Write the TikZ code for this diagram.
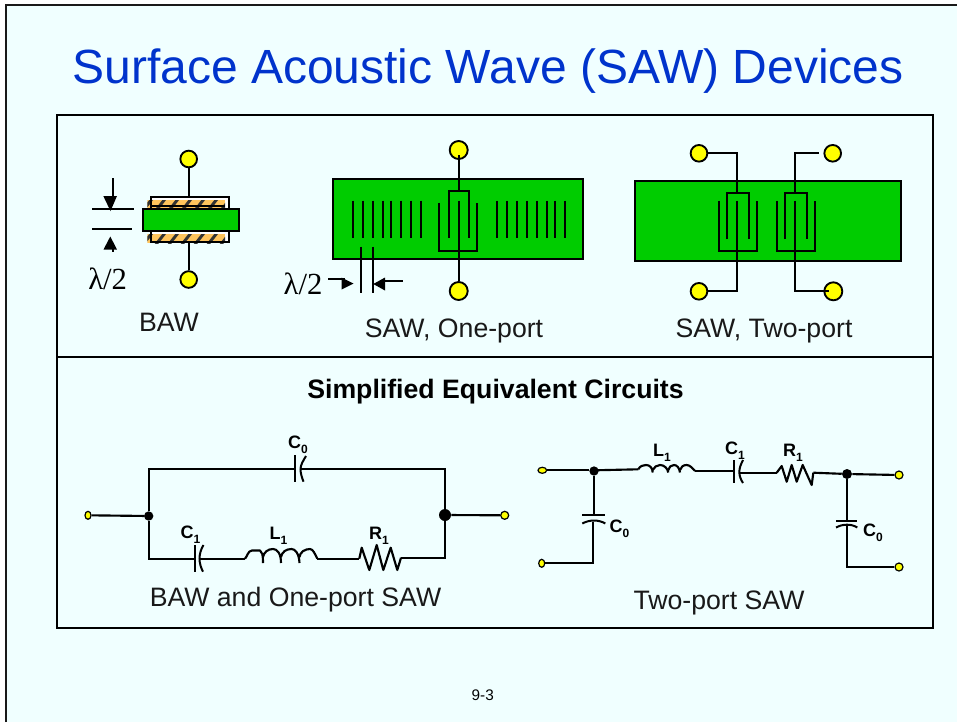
\documentclass[tikz,border=0pt]{standalone}
\usepackage{fontspec}
\setmainfont{Liberation Sans}
\newfontfamily\serifsym{Liberation Serif}
\definecolor{pagebg}{HTML}{F0FFFF}
\definecolor{subst}{HTML}{00CC00}
\definecolor{elec}{HTML}{FFC45C}
\definecolor{termy}{HTML}{FFFF00}
\definecolor{titleblue}{HTML}{0033CC}
\newcommand{\sizedtext}[1]{\fontsize{#1}{#1}\selectfont}
\newcommand{\compl}[2]{#1\raisebox{-0.28em}{\sizedtext{9}#2}}
\tikzset{
  x=0.75pt,y=-0.75pt,
  wire/.style={draw=black,line width=1.6pt,line join=miter},
  fine/.style={draw=black,line width=1.5pt},
  frameline/.style={draw=black,line width=1.2pt},
  bigterm/.style={circle,draw=black,fill=termy,line width=1.4pt,minimum size=12.5pt,inner sep=0pt},
  smallterm/.style={ellipse,draw=black,fill=termy,line width=0.9pt,minimum width=4.5pt,minimum height=6pt,inner sep=0pt},
  smalltermw/.style={ellipse,draw=black,fill=termy,line width=0.9pt,minimum width=6.5pt,minimum height=4.5pt,inner sep=0pt},
  smalltermc/.style={circle,draw=black,fill=termy,line width=0.9pt,minimum size=6pt,inner sep=0pt},
  junction/.style={circle,fill=black,minimum size=#1,inner sep=0pt},
  caption/.style={font=\sizedtext{20},text=black!90,inner sep=0pt},
  partlabel/.style={font=\bfseries\sizedtext{13.5},inner sep=0pt},
  plate/.style={draw=black,line width=1.5pt},
  green sub/.style={draw=black,fill=subst,line width=1.5pt},
  elecline/.style={draw=black,line width=1.3pt}
}
\usetikzlibrary{shapes.geometric}
\begin{document}
\begin{tikzpicture}
\useasboundingbox (0,0) rectangle (957,722);
\fill[white] (0,0) rectangle (957,722);
\fill[pagebg] (5,5) rectangle (957,722);
\draw[line width=1.5pt,black!90] (5.5,722) -- (5.5,5) -- (957,5);

% title
\node[inner sep=0pt,text=titleblue,font=\sizedtext{36},anchor=base] (title) at (488,83) {Surface Acoustic Wave (SAW) Devices};

% frame
\draw[frameline] (57,115) rectangle (933,628);
\draw[frameline] (57,357) -- (933,357);

% ---------------- BAW
\fill[white] (150.7,197) rectangle (229.3,209);
\fill[white] (150.7,231) rectangle (229.3,241.7);
\foreach \ya/\yb in {200/209.5,234/243.3}{
  \begin{scope}
  \clip (147.3,\ya) rectangle (225,\yb);
  \fill[elec] (147.3,\ya) rectangle (225,\yb);
  \foreach \k in {0,...,7}{
    \draw[line width=2.2pt,black!80] (143+\k*13,\yb+1) -- (152+\k*13,\ya-1);
  }
  \end{scope}
}
\draw[elecline] (150.7,209) -- (150.7,197) -- (229.3,197) -- (229.3,209);
\draw[elecline] (150.7,205.7) -- (225,205.7);
\draw[elecline] (150.7,231) -- (150.7,241.7) -- (229.3,241.7) -- (229.3,231);
\node[green sub,minimum width=72.4pt,minimum height=16.6pt,inner sep=0pt] (bawsub) at (191,220) {};
\node[bigterm] (bawT) at (188.7,159) {};
\node[bigterm] (bawB) at (188.7,279.5) {};
\coordinate (bawEt) at (188.7,197);
\coordinate (bawEb) at (188.7,241.5);
\draw[wire] (bawT) -- (bawEt);
\draw[wire] (bawEb) -- (bawB);
\draw[fine] (92.3,209) -- (133.7,209);
\draw[fine] (92.3,229) -- (132,229);
\draw[fine] (112.7,178) -- (112.7,197);
\fill (103.3,196) -- (117,196) -- (110.5,211) -- cycle;
\fill (103.5,249.5) -- (117,249.5) -- (110.3,236.5) -- cycle;
\draw[fine] (112.7,249) -- (112.7,251.7);
\node[inner sep=0pt,font=\serifsym\sizedtext{23}] (lamA) at (107.7,279) {λ/2};
\node[caption] (bawcap) at (169,322) {BAW};

% ---------------- SAW one port
\node[green sub,minimum width=188pt,minimum height=60pt,inner sep=0pt] (onesub) at (458,219) {};
\foreach \x in {352.7,362.7,372.7,382.7,390.7,400.7,410.7,420.7,496.7,506.7,516.7,526.7,536.7,546.7,555,565}{
  \draw[fine] (\x,200.7) -- (\x,238);
}
\draw[fine] (449,238) -- (449,191) -- (469,191) -- (469,238);
\draw[fine] (439,202.7) -- (439,251.3) -- (477,251.3) -- (477,202.7);
\node[bigterm,minimum width=12.5pt,minimum height=13.5pt] (oneT) at (458.7,150) {};
\node[bigterm,minimum width=12.5pt,minimum height=13.5pt] (oneB) at (458.7,291) {};
\coordinate (oneIt) at (458.7,191);
\coordinate (oneIb) at (458.7,200.7);
\draw[wire] (oneT.center) [shorten <=4pt] -- (oneIt);
\draw[wire] (oneIb) -- (oneB);
\node[inner sep=0pt,font=\serifsym\sizedtext{23}] (lamB) at (303,284) {λ/2};
\draw[fine] (360.7,246.7) -- (360.7,293.3);
\draw[fine] (372.7,246.7) -- (372.7,293.3);
\draw[fine] (328,279.3) -- (345,279.3);
\fill (341.5,277.5) -- (353.5,283.5) -- (341.5,289.5) -- cycle;
\draw[fine] (382,281) -- (403.3,281);
\fill (385,277.5) -- (373.3,284) -- (385,290.5) -- cycle;
\node[caption] (onecap) at (454,331) {SAW, One-port};

% ---------------- SAW two port
\node[green sub,minimum width=200pt,minimum height=60pt,inner sep=0pt] (twosub) at (767.9,221) {};
\foreach \c/\ua/\ub/\la/\lb in {737.3/726.7/749/718.7/757.3,794.7/784.7/807/776.7/815.3}{
  \draw[fine] (\ua,239.3) -- (\ua,193) -- (\ub,193) -- (\ub,239.3);
  \draw[fine] (\la,200.7) -- (\la,251.3) -- (\lb,251.3) -- (\lb,200.7);
}
\node[bigterm] (twoA) at (699,153.3) {};
\node[bigterm] (twoBt) at (832.7,153.3) {};
\node[bigterm] (twoC) at (699,291.3) {};
\node[bigterm,minimum width=13.5pt] (twoD) at (833.3,291.3) {};
\coordinate (twoIa) at (737.3,193);
\coordinate (twoIb) at (794.7,193);
\coordinate (twoIc) at (737.3,200.7);
\coordinate (twoId) at (794.7,200.7);
\draw[wire] (twoA) -| (twoIa);
\draw[wire] (twoIb) |- ([xshift=-3pt]twoBt.west);
\draw[wire] (twoIc) |- (twoC);
\draw[wire] (twoId) |- ([xshift=4pt]twoD.west);
\node[caption] (twocap) at (764,331) {SAW, Two-port};

% ---------------- Heading
\node[inner sep=0pt,font=\bfseries\sizedtext{20},anchor=base] (eqhead) at (495.5,398) {Simplified Equivalent Circuits};

% ---------------- Circuit 1
\node[smallterm] (aL) at (88,515.3) {};
\node[smalltermc] (aR) at (504.7,515.3) {};
\node[junction=7pt] (aJl) at (148.7,516) {};
\node[junction=9pt] (aJr) at (445,515) {};
\coordinate (aC0a) at (295,469.3);
\coordinate (aC0b) at (301,469.3);
\coordinate (aC1a) at (195,558.7);
\coordinate (aC1b) at (199.5,558.7);
\coordinate (aLa) at (245,558.7);
\coordinate (aLb) at (317.3,558.7);
\coordinate (aRa) at (359.3,558.7);
\coordinate (aRb) at (401,557.7);
\draw[wire] (aL) -- (aJl);
\draw[wire] (aJr) -- (aR);
\draw[wire] (aJl) |- (aC0a);
\draw[wire] (aC0b) -| (aJr);
\draw[wire] (aJl) |- (aC1a);
\draw[wire] (aC1b) -- (aLa);
\draw[wire] (aLb) -- (aRa);
\draw[wire] (aRb) -| (aJr);
% C0
\draw[plate] (295,455) -- (295,481.7);
\draw[plate] (306,456) .. controls (303,461) and (300.5,465) .. (300.5,469.3) .. controls (300.5,473) and (302,478) .. (303.5,481.7);
% C1
\draw[plate] (195,545) -- (195,571.7);
\draw[plate] (203.5,545) .. controls (201,549) and (199.5,554) .. (199.5,558.7) .. controls (199.5,563) and (201,568) .. (203,571.7);
% L1
\draw[wire,line join=round] (aLa) .. controls (247,557) and (248,550.5) .. (252,550.5) .. controls (254,550.5) and (257,550.5) .. (260,550.5) .. controls (262,552) and (263,554) .. (263,563)
  (263,557) .. controls (264,552) and (268,549) .. (273,549) .. controls (277,549) and (281,553) .. (281,563)
  (281,557) .. controls (282,552) and (286,549) .. (291.5,549) .. controls (295,549) and (299,553) .. (299.5,563)
  (299.5,557) .. controls (300,552) and (305,549) .. (310,549) .. controls (313,549) and (315,554) .. (aLb);
% R1
\draw[wire,line join=round] (aRa) -- (361.7,547.7) -- (369.3,570) -- (376.7,545) -- (383.3,570) -- (390.7,547.7) -- (397.3,570) -- (aRb);
\node[partlabel] (aLC0) at (298,445) {\compl{C}{0}};
\node[partlabel] (aLC1) at (190.5,534.5) {\compl{C}{1}};
\node[partlabel] (aLL1) at (278.5,535.5) {\compl{L}{1}};
\node[partlabel] (aLR1) at (379,535.5) {\compl{R}{1}};
\node[caption] (acap) at (295.5,599.5) {BAW and One-port SAW};

% ---------------- Circuit 2
\node[smalltermw] (bA) at (542.3,470.3) {};
\node[smallterm] (bB) at (541.7,563.3) {};
\node[smalltermc] (bC) at (899,475) {};
\node[smalltermc] (bD) at (899,567) {};
\node[junction=7pt] (bJl) at (594,471) {};
\node[junction=7.5pt] (bJr) at (847,474) {};
\coordinate (bLa) at (638.3,469.3);
\coordinate (bLb) at (695,471);
\coordinate (bC1a) at (734,471);
\coordinate (bC1b) at (739.3,472.7);
\coordinate (bRa) at (776.7,472.7);
\coordinate (bRb) at (813.3,472.7);
\coordinate (bCl) at (594,515);
\coordinate (bClb) at (592.7,521.7);
\coordinate (bCr) at (847,520.7);
\coordinate (bCrb) at (847,525);
\draw[wire] (bA) -- (bJl.west |- bA);
\draw[wire] (bJl |- bA) -- (bLa);
\draw[wire] (bLb) -- (bC1a);
\draw[wire] (bC1b) -- (bRa);
\draw[wire] (bRb) -- (bJr);
\draw[wire] (bJr) -- (bC);
\draw[wire] (bJl) -- (bCl);
\draw[wire] (bClb) |- (bB);
\draw[wire] (bJr) -- (bCr);
\draw[wire] (bCrb) |- (bD);
% C1
\draw[plate] (734,460) -- (734,483);
\draw[plate] (743,460) .. controls (741,464) and (739.3,468) .. (739.3,472) .. controls (739.3,476) and (741,480) .. (743,483);
% C0 left
\draw[plate] (582.3,515) -- (605.3,515);
\draw[plate] (582.3,523.5) .. controls (586,521.5) and (590,520.5) .. (594,520.5) .. controls (598,520.5) and (602,521.5) .. (605.3,523.5);
% C0 right
\draw[plate] (836,520.7) -- (857.3,520.7);
\draw[plate] (836,527.5) .. controls (840,525.5) and (843,524.7) .. (847,524.7) .. controls (851,524.7) and (854,525.5) .. (857.3,527.5);
% L1
\draw[wire,line join=round] (bLa) .. controls (640,466) and (643,465) .. (646,465) .. controls (650,465) and (652.5,468) .. (652.7,472.5)
  (652.7,470) .. controls (654,467) and (657,465) .. (660,465) .. controls (664,465) and (667.5,468) .. (668.3,472.5)
  (668.3,470) .. controls (669,467) and (671,465) .. (674,465) .. controls (677,465) and (679.5,468) .. (680,472.5)
  (680,470) .. controls (681,467) and (683,465) .. (686.5,465) .. controls (690,465) and (692,468) .. (bLb);
% R1
\draw[wire,line join=round] (bRa) -- (781.7,466) -- (786.7,481.7) -- (791.7,465) -- (796.7,481.7) -- (802.7,465) -- (811.7,485) -- (bRb);
\node[partlabel] (bLC0a) at (619.5,528.5) {\compl{C}{0}};
\node[partlabel] (bLC0b) at (873,533) {\compl{C}{0}};
\node[partlabel] (bLL1) at (662,453) {\compl{L}{1}};
\node[partlabel] (bLC1) at (735,451) {\compl{C}{1}};
\node[partlabel] (bLR1) at (793,453) {\compl{R}{1}};
\node[caption] (bcap) at (719,602.5) {Two-port SAW};

% page number
\node[inner sep=0pt,font=\sizedtext{11.5}] (pagenum) at (482.7,695) {9-3};
\end{tikzpicture}
\end{document}
